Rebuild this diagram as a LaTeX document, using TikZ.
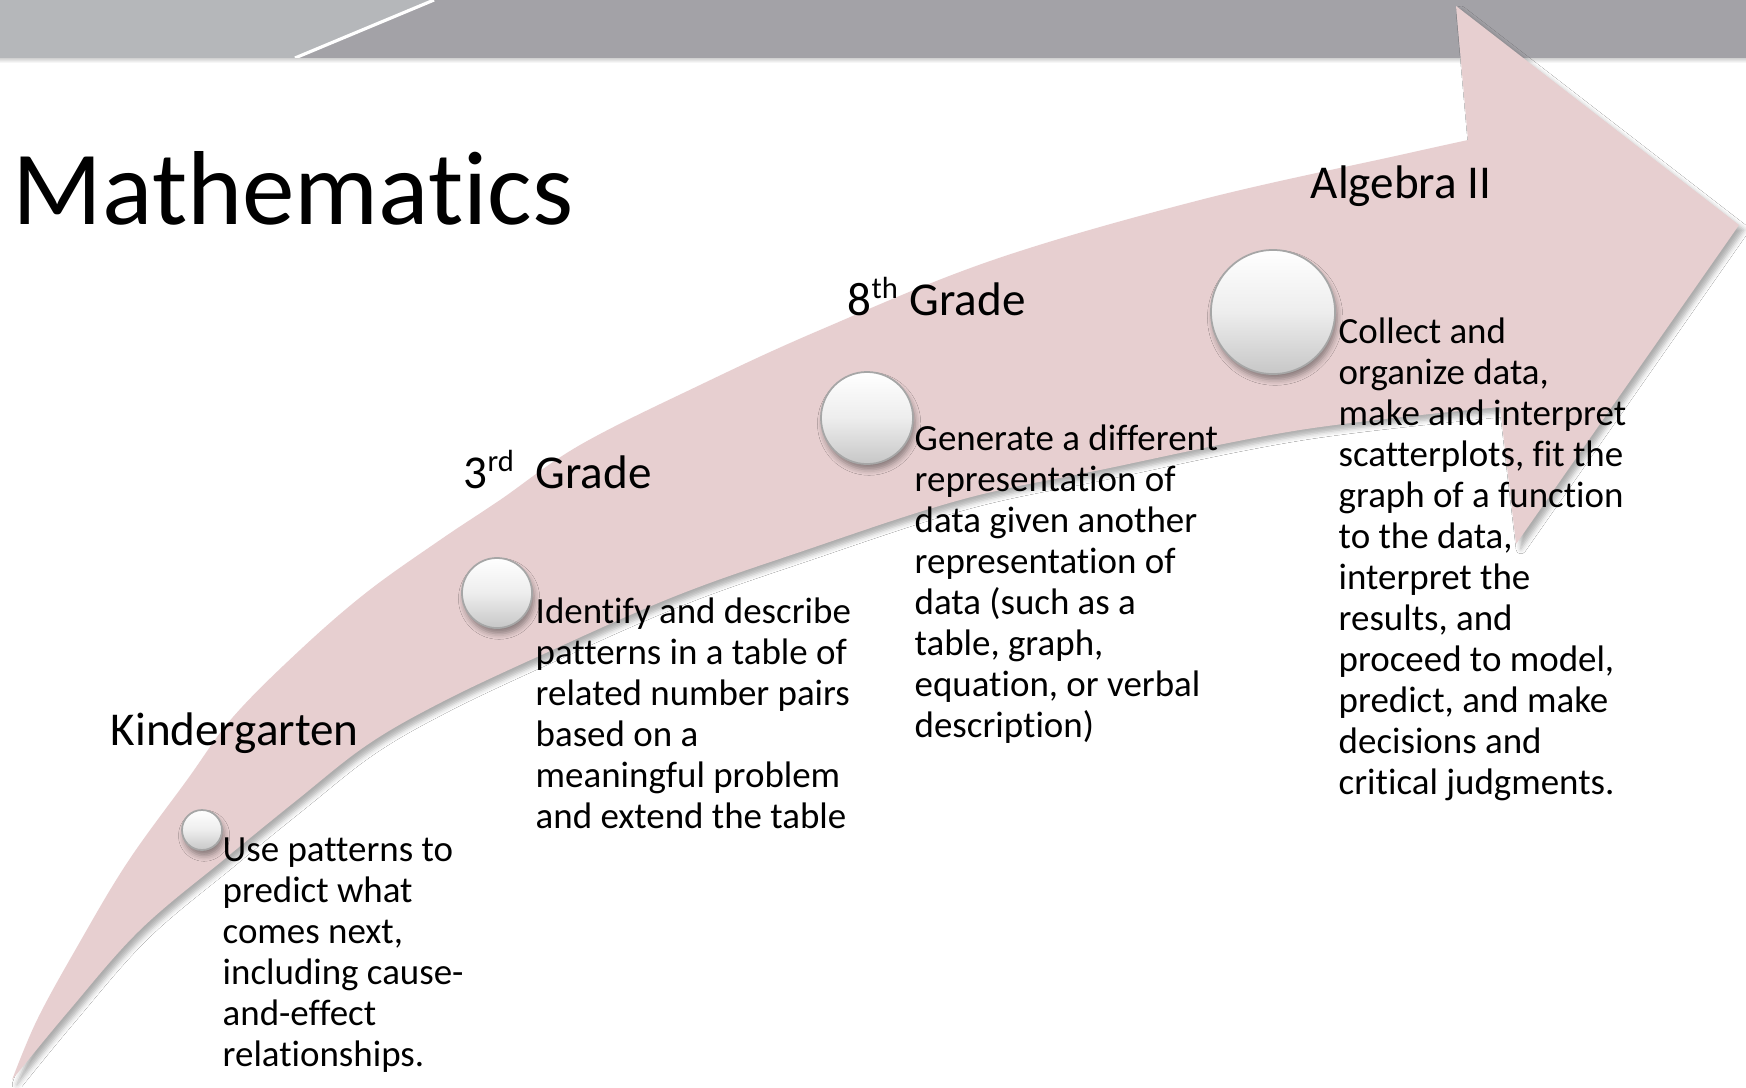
\documentclass[tikz,border=0pt]{standalone}
\usepackage{fontspec}
\setmainfont{Carlito}[Ligatures={NoCommon,NoRequired,NoContextual,NoRare}]
\usetikzlibrary{shadows.blur}
\definecolor{arrowpink}{RGB}{231,207,208}
\definecolor{barlight}{RGB}{181,183,186}
\definecolor{bardark}{RGB}{163,162,167}
\newcommand{\supx}[1]{\raisebox{0.36em}{\fontsize{8.7}{9}\selectfont #1}}
\begin{document}
\begin{tikzpicture}[x=0.01cm,y=-0.01cm,
  titletext/.style={anchor=base west, inner sep=0pt, font=\fontsize{29.9}{36}\selectfont},
  headtext/.style={anchor=base west, inner sep=0pt, font=\fontsize{13.4}{16}\selectfont},
  bodytext/.style={anchor=base west, inner sep=0pt, font=\fontsize{10.5}{11.66}\selectfont},
  ball/.style={circle, inner sep=0pt, draw=black!35, line width=0.5pt,
    top color=white, bottom color=black!22, middle color=white!93!black,
    blur shadow={shadow xshift=0.6pt, shadow yshift=-1.6pt, shadow opacity=40, shadow blur radius=1.6pt}}]
\useasboundingbox (0,0) rectangle (1746,1087);
\fill[white] (0,0) rectangle (1746,1087);
% top bar
\fill[bardark] (0,0) rectangle (1746,58);
\fill[barlight] (0,0) -- (434,0) -- (295,58) -- (0,58) -- cycle;
\draw[white, line width=0.9pt] (434,0) -- (295,58);
\shade[top color=black!18, bottom color=white] (0,58) rectangle (1746,63);
% big curved arrow
\fill[arrowpink, blur shadow={shadow xshift=1.4pt, shadow yshift=-1.4pt, shadow opacity=32, shadow blur radius=1.4pt}]
  plot[smooth, tension=0.6] coordinates {(12,1080) (37,1020) (77,947) (127,863) (187,780) (233,717) (300,650) (367,592) (440,540) (500,500) (580,445) (700,385) (820,330) (993,260) (1200,200) (1400,155) (1468,140)}
  -- (1456,6) -- (1739,225) -- (1516,544) -- (1500,407)
  -- plot[smooth, tension=0.6] coordinates {(1500,407) (1300,430) (1100,470) (960,500) (800,552) (673,597) (537,657) (440,703) (367,745) (297,800) (227,857) (140,930) (67,1013) (12,1080)}
  -- cycle;
% circles
\node[ball, minimum size=0.40cm] (c1) at (202,830) {};
\node[ball, minimum size=0.70cm] (c2) at (497,593) {};
\node[ball, minimum size=0.92cm] (c3) at (867,418) {};
\node[ball, minimum size=1.24cm] (c4) at (1273,312) {};
% texts
\node[titletext] (title) at (12,224) {Mathematics};
\node[headtext] (h1) at (110,745) {Kindergarten};
\node[headtext] (h2) at (463,488) {\makebox[0.72cm][l]{3\supx{rd}}Grade};
\node[headtext] (h3) at (847,315) {\makebox[0.62cm][l]{8\supx{th}}Grade};
\node[headtext] (h4) at (1310,198) {Algebra II};
\node[bodytext] (t1) at (222,861) {\parbox[t]{6cm}{\raggedright Use patterns to\\predict what\\comes next,\\including cause-\\and-effect\\relationships.}};
\node[bodytext] (t2) at (535,623) {\parbox[t]{6cm}{\raggedright Identify and describe\\patterns in a table of\\related number pairs\\based on a\\meaningful problem\\and extend the table}};
\node[bodytext] (t3) at (914,450) {\parbox[t]{6cm}{\raggedright Generate a different\\representation of\\data given another\\representation of\\data (such as a\\table, graph,\\equation, or verbal\\description)}};
\node[bodytext] (t4) at (1338,343) {\parbox[t]{6cm}{\raggedright Collect and\\organize data,\\make and interpret\\scatterplots, fit the\\graph of a function\\to the data,\\interpret the\\results, and\\proceed to model,\\predict, and make\\decisions and\\critical judgments.}};
\end{tikzpicture}
\end{document}
